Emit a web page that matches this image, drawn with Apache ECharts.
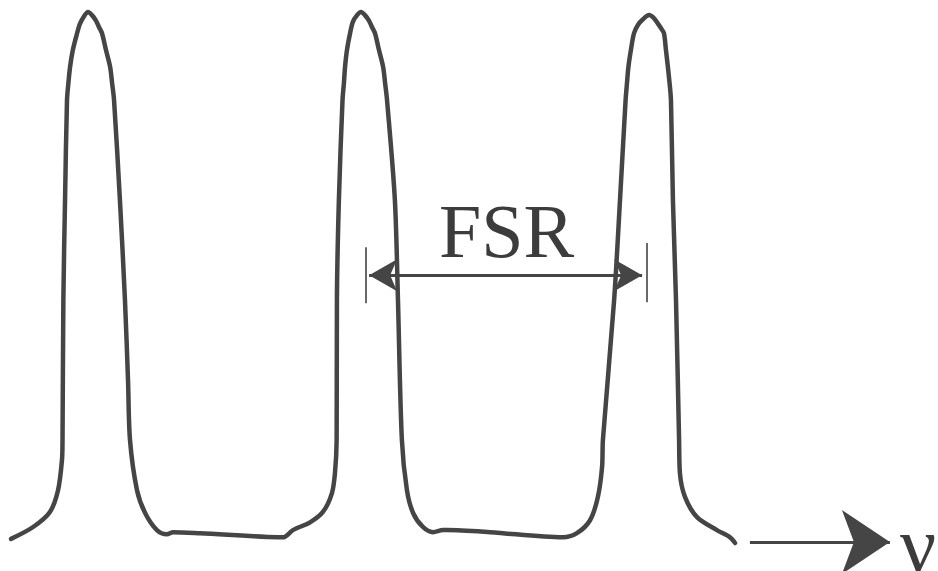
<!DOCTYPE html>
<html>
<head>
<meta charset="utf-8">
<title>Fabry-Perot transmission — FSR</title>
<script src="https://cdn.jsdelivr.net/npm/echarts@6/dist/echarts.min.js"></script>
<style>
  html, body { margin: 0; padding: 0; background: #ffffff; }
  #chart { width: 938px; height: 571px; }
</style>
</head>
<body>
<div id="chart"></div>
<script>
// Frequency in units of the free spectral range (peaks at 0, 1, 2)
var freq = [
  -0.275, -0.196, -0.136, -0.107, -0.093, -0.091, -0.088, -0.082,
  -0.075, -0.070, -0.064, -0.054, -0.039, -0.029, -0.014, 0.000,
  0.014, 0.029, 0.039, 0.050, 0.064, 0.079, 0.086, 0.093,
  0.114, 0.132, 0.143, 0.150, 0.175, 0.204, 0.246, 0.282, 0.304, 0.400,
  0.696, 0.732, 0.793, 0.839, 0.871, 0.882, 0.888, 0.889, 0.896,
  0.909, 0.914, 0.918, 0.925, 0.936, 0.946, 0.961, 0.975,
  0.989, 1.004, 1.014, 1.025, 1.039, 1.054, 1.061, 1.068,
  1.096, 1.107, 1.121, 1.139, 1.161, 1.196, 1.232, 1.268, 1.282, 1.436,
  1.696, 1.746, 1.793, 1.821, 1.836, 1.839, 1.879, 1.900,
  1.920, 1.925, 1.930, 1.939, 1.950, 1.964, 1.982, 2.004,
  2.021, 2.036, 2.046, 2.057, 2.064, 2.071, 2.077, 2.082,
  2.089, 2.100, 2.111, 2.114, 2.132, 2.175, 2.246, 2.293, 2.311
];
// Normalised transmitted intensity
var transmission = [
  -0.017, 0.006, 0.035, 0.077, 0.135, 0.174, 0.444, 0.637,
  0.830, 0.863, 0.894, 0.927, 0.959, 0.977, 0.992, 1.000,
  0.994, 0.983, 0.971, 0.959, 0.927, 0.894, 0.863, 0.830,
  0.637, 0.444, 0.288, 0.174, 0.077, 0.033, 0.000, -0.008, -0.004, -0.006,
  -0.014, 0.000, 0.015, 0.035, 0.071, 0.110, 0.174, 0.444, 0.637,
  0.830, 0.863, 0.894, 0.927, 0.959, 0.981, 0.994, 1.000,
  0.994, 0.983, 0.971, 0.959, 0.927, 0.894, 0.863, 0.830,
  0.637, 0.444, 0.174, 0.077, 0.033, 0.006, -0.004, 0.000, 0.000, -0.004,
  -0.014, -0.006, 0.019, 0.064, 0.122, 0.174, 0.444, 0.637,
  0.830, 0.863, 0.894, 0.927, 0.959, 0.975, 0.986, 0.994,
  0.988, 0.977, 0.969, 0.959, 0.927, 0.894, 0.863, 0.830,
  0.637, 0.444, 0.174, 0.110, 0.064, 0.025, 0.000, -0.014, -0.025
];

// FSR dimension: arrow between neighbouring peaks, with end bars
var fsrFrom = 1.004, fsrTo = 1.979, fsrLevel = 0.492;
var fsrBarLeft = { f: 0.993, lo: 0.438, hi: 0.546 };
var fsrBarRight = { f: 1.996, lo: 0.440, hi: 0.554 };
var fsrLabel = 'FSR';
var fsrLabelPos = [1.495, 0.566];

// Frequency direction arrow and its symbol
var nuArrowFrom = 2.364, nuArrowTo = 2.864, nuLevel = -0.023;
var nuLabel = 'ν';
var nuLabelPos = [2.965, -0.04];

var ink = '#454545';
var serif = "'Liberation Serif', 'Times New Roman', serif";

var curve = freq.map(function (f, i) { return [f, transmission[i]]; });

// A text annotation anchored at a data coordinate
function textMark(pos, text, size) {
  return {
    coord: pos,
    value: text,
    symbol: 'circle',
    symbolSize: 1,
    itemStyle: { color: 'rgba(0,0,0,0)' },
    label: {
      show: true,
      position: 'inside',
      formatter: text,
      color: '#3c3c3c',
      fontFamily: serif,
      fontSize: size,
      align: 'center',
      verticalAlign: 'middle'
    }
  };
}

var chart = echarts.init(document.getElementById('chart'), null, { renderer: 'canvas' });
chart.setOption({
  animation: false,
  backgroundColor: '#ffffff',
  grid: { left: 4, right: 10, top: 12, bottom: 15 },
  xAxis: { type: 'value', min: -0.3, max: 3.0, show: false },
  yAxis: { type: 'value', min: -0.05, max: 1.0, show: false },
  series: [
    {
      name: 'transmission',
      type: 'line',
      data: curve,
      smooth: 0.3,
      showSymbol: false,
      clip: false,
      silent: true,
      lineStyle: { color: ink, width: 4.5, cap: 'round', join: 'round' }
    },
    {
      name: 'fsr',
      type: 'line',
      data: [],
      silent: true,
      markLine: {
        silent: true,
        animation: false,
        label: { show: false },
        emphasis: { disabled: true },
        data: [
          [
            { coord: [fsrFrom, fsrLevel], symbol: 'arrow', symbolSize: [24, 28], lineStyle: { color: ink, width: 3, type: 'solid' } },
            { coord: [fsrTo, fsrLevel], symbol: 'arrow', symbolSize: [24, 28] }
          ],
          [
            { coord: [fsrBarLeft.f, fsrBarLeft.lo], symbol: 'none', lineStyle: { color: ink, width: 1.6, type: 'solid' } },
            { coord: [fsrBarLeft.f, fsrBarLeft.hi], symbol: 'none' }
          ],
          [
            { coord: [fsrBarRight.f, fsrBarRight.lo], symbol: 'none', lineStyle: { color: ink, width: 1.6, type: 'solid' } },
            { coord: [fsrBarRight.f, fsrBarRight.hi], symbol: 'none' }
          ]
        ]
      },
      markPoint: {
        silent: true,
        animation: false,
        data: [textMark(fsrLabelPos, fsrLabel, 76)]
      }
    },
    {
      name: 'nu',
      type: 'line',
      data: [],
      silent: true,
      markLine: {
        silent: true,
        animation: false,
        label: { show: false },
        emphasis: { disabled: true },
        data: [
          [
            { coord: [nuArrowFrom, nuLevel], symbol: 'none', lineStyle: { color: ink, width: 3, type: 'solid' } },
            { coord: [nuArrowTo, nuLevel], symbol: 'arrow', symbolSize: [48, 48] }
          ]
        ]
      },
      markPoint: {
        silent: true,
        animation: false,
        data: [textMark(nuLabelPos, nuLabel, 80)]
      }
    }
  ]
});
</script>
</body>
</html>
